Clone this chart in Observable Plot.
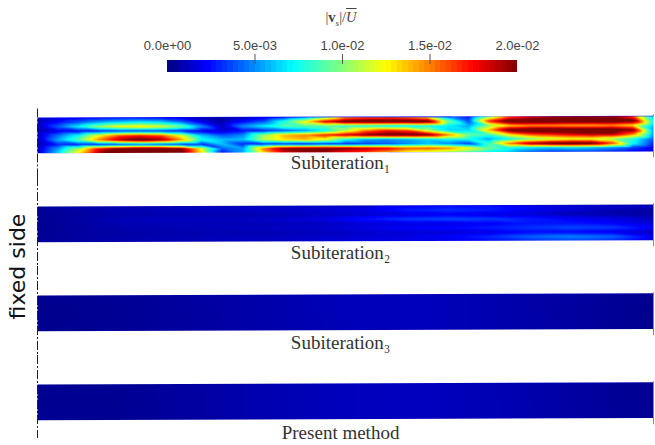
<!DOCTYPE html>
<html><head><meta charset="utf-8">
<script src="https://cdn.jsdelivr.net/npm/d3@7"></script>
<script src="https://cdn.jsdelivr.net/npm/@observablehq/plot@0.6"></script>
<style>
html,body{margin:0;padding:0;background:#fff;overflow:hidden}
#title{height:30px;position:relative;font:14.5px "Liberation Serif",serif;color:#444}
#title span.t{position:absolute;left:341px;top:9px;transform:translateX(-50%);white-space:nowrap}
#title sub{font-size:9px;font-style:italic;line-height:0}
#title .u{text-decoration:overline;font-style:italic}
svg{display:block}
svg image{filter:blur(0.6px)}
</style></head><body>
<div id="title"><span class="t">|<b>v</b><sub>s</sub>|/<span class="u">U</span></span></div>
<div id="bar"></div>
<div id="panels"></div>
<script>
// Values in units of 1e-3; each row runs from the fixed side to the free end
const panel1Rows = [
 [0.8,1.5,2,2.3,2.5,2.5,2.3,1.8,1,0.5,1,1.5,3,5,9,14,15,15,14,12,5,2.5,10,16,18,19,19,19,19,16,6],
 [1,2.5,4,5.5,6.5,7,6.5,4.5,2,0.8,2.5,4,8,12.5,18,21,22,22,22,21,10,4,17,22,22,22,22,22,22,21,7],
 [1,4,7,10.5,12.5,13,12,9.5,5,1.2,5,7,9,9,9,8,7.5,7,7,8,7,5.5,10,13.5,14.5,14.5,14,14,14.5,13,6],
 [0.8,2,2.5,3,3.5,3.5,3.5,3,2,1.5,2.5,3,4,5,7,11,15,17,16,11,6.5,6.5,14,21,22,22,22,22,22,20,5],
 [1,4.5,7.5,12.5,16,17,16,12,6,4,5,10.5,14,15,17,18.5,20,21,21,20,15,9.5,8.5,13,16,17,18,19,19,15,5],
 [1,5.5,9,15,19,21,19.5,14.5,7.5,6,6,11,13,14,12,7.5,5.5,5,5.5,6.5,7.5,7.5,5.5,7.5,9.5,11,12,12,10.5,8,4],
 [0.8,3,3,3,3.5,4,3.5,3,3,6,3,3,3,2.5,3,3,3.5,4,5,6,5,3.5,8.5,15.5,19.5,21,21.5,21,16.5,7.5,3],
 [1,5.5,11,18,21,22,22,20,12,4,5.5,15,20,21,21,20,19,18,16,16,15,12.5,9.5,7.5,6.5,6,6.5,6,5,3.5,2],
 [1,6.5,13,19,22,22,22,21,13,2,5.5,13,18,19,19,17,16,14,12,11,10,8.5,7,6,4,3,3,3,2.5,2,1.5]
];
const panel2Rows = [
 [0.5,0.7,0.9,1,1.1,1.2,1.3,1.5,1.6,2,2.4,2.6,2,1.6,1.5,1.2],
 [0.4,0.7,0.9,1,1.1,1.2,1.3,1.5,1.8,2.8,3.2,2.8,2,1.5,1,0.7],
 [0.3,0.6,0.8,0.9,0.9,0.9,1,1.2,1.5,1.8,2,1.8,1.6,1,0.8,0.6],
 [0.4,0.7,1,1.2,1.2,1.2,1.4,1.8,2.6,3.4,3.7,3.4,2.8,2.2,1.8,1.2],
 [0.3,0.6,0.9,1,1,1,1.1,1.2,1.6,1.8,1.8,2.2,2.6,2.6,2.2,1.5],
 [0.3,0.6,0.8,0.9,1,1.1,1.2,1.4,1.8,2.2,2.4,2.8,3.2,3.6,3.4,2.2],
 [0.4,0.6,0.7,0.8,0.9,0.9,1,1.1,1.4,1.6,1.6,1.8,2.4,2.4,2,1.2],
 [0.4,0.6,0.8,0.9,1,1.1,1.2,1.4,1.6,1.8,2.2,3,4.2,4.8,4.2,2],
 [0.5,0.7,0.8,0.9,1,1.2,1.2,1.4,1.6,1.8,2,2.4,3,3.4,3,1.5]
];
const panel3Rows = [
 [0.3,0.4,0.6,0.8,1.05,1.1,0.85,0.6,0.3],
 [0.25,0.35,0.55,0.8,1.05,1.1,0.85,0.55,0.25],
 [0.3,0.4,0.6,0.8,1,1.1,0.85,0.6,0.3]
];
const panel4Rows = [
 [0.35,0.35,0.6,0.9,1.1,1.15,0.95,0.6,0.3],
 [0.3,0.3,0.6,0.9,1.1,1.15,0.95,0.6,0.3],
 [0.35,0.35,0.6,0.9,1.1,1.15,0.95,0.65,0.35]
];
const panelNames = ["Subiteration₁","Subiteration₂","Subiteration₃","Present method"];
const panelRows = [panel1Rows,panel2Rows,panel3Rows,panel4Rows];
const panelTilt = [0.045,0.055,0.06,0.06];
const colorbarTicks = [0,0.005,0.01,0.015,0.02];
const colorbarLabels = ["0.0e+00","5.0e-03","1.0e-02","1.5e-02","2.0e-02"];
const colorbarSegments = 64;
const jetStops = [0,0.0023,0.0072,0.0125,0.0175,0.02];
const jetColors = ["#00007f","#0000ff","#00ffff","#ffff00","#ff0000","#7f0000"];

const color = {type:"linear",domain:jetStops,range:jetColors,clamp:true};

// colour bar
const segments = d3.range(colorbarSegments).map(i=>({
  a:i/colorbarSegments*0.02, b:(i+1)/colorbarSegments*0.02, v:(i+0.5)/colorbarSegments*0.02}));
document.getElementById("bar").append(Plot.plot({
  width:655,height:56,marginLeft:167,marginRight:138,marginTop:30,marginBottom:14,
  style:{background:"#fff"},
  x:{domain:[0,0.02],axis:null},y:{domain:[0,1],axis:null},color,
  marks:[
    Plot.rect(segments,{x1:"a",x2:"b",y1:0,y2:1,fill:"v",shapeRendering:"crispEdges"}),
    Plot.ruleX(colorbarTicks.slice(1,4),{y1:1.5,y2:0.67,stroke:"#555",strokeWidth:1}),
    Plot.axisX({anchor:"top",ticks:colorbarTicks,tickSize:0,tickPadding:11,
      tickFormat:d=>colorbarLabels[colorbarTicks.indexOf(d)],
      fontSize:13,fontFamily:"Liberation Sans",fill:"#444",label:null})
  ]
}));

// panels
const samples=[],masks=[];
panelNames.forEach((panel,p)=>{
  const rows=panelRows[p],tilt=panelTilt[p];
  rows.forEach((row,j)=>row.forEach((v,i)=>{
    const x=i/(row.length-1);
    samples.push({panel,x,y:j/(rows.length-1)-tilt*x,v:v*1e-3});
  }));
  [0,1].forEach(x=>{
    masks.push({panel,z:"t",x,y1:-0.2,y2:-tilt*x});
    masks.push({panel,z:"b",x,y1:1-tilt*x,y2:1.2});
  });
});
const captionRow = [1.25,1.3,1.31,1.34];
const panelFrame = panelNames.map((panel,i)=>({panel,cy:captionRow[i]}));
document.getElementById("panels").append(Plot.plot({
  width:655,height:359,marginLeft:37,marginRight:2,marginTop:0,marginBottom:0,
  style:{background:"#fff"},
  x:{domain:[0,1],axis:null},
  y:{domain:[-0.822,1.667],reverse:true,axis:null},
  fy:{domain:panelNames,axis:null,padding:0},
  color,
  marks:[
    Plot.raster(samples,{x:"x",y:"y",fill:"v",fy:"panel",x1:0,x2:1,y1:-0.1,y2:1.1,interpolate:"barycentric",pixelSize:1}),
    Plot.area(masks,{x1:"x",y1:"y1",y2:"y2",z:"z",fy:"panel",fill:"white"}),
    Plot.ruleX(panelFrame,{x:0,y1:d=>d.panel===panelNames[0]?-0.25:-0.822,y2:d=>d.panel===panelNames[3]?1.5:1.667,fy:"panel",stroke:"#222",strokeWidth:1,strokeDasharray:"9,2,2,2"}),
    Plot.text(panelFrame,{x:0.492,y:"cy",text:"panel",fy:"panel",fontFamily:"Liberation Serif",fontSize:19,fill:"#333"}),
    Plot.text(["fixed side"],{x:0,y:1.667,dx:-20,fy:()=>panelNames[1],rotate:-90,fontFamily:"DejaVu Sans",fontSize:22,fill:"#111",text:d=>d})
  ]
}));
</script>
</body></html>
